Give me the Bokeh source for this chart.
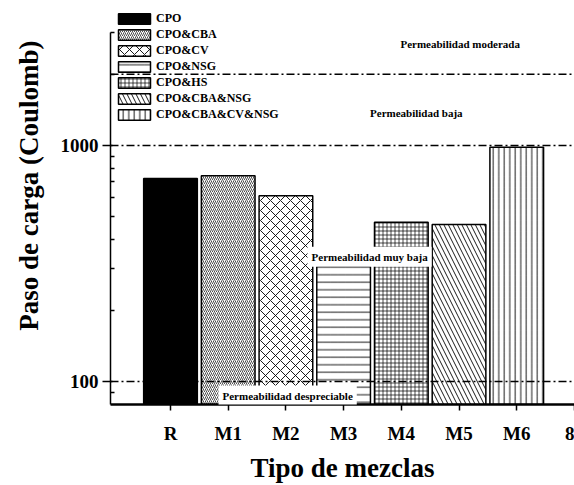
from bokeh.plotting import figure
from bokeh.models import (Range1d, FixedTicker, Span, Label, Legend, LegendItem,
                          ColumnDataSource)
from bokeh.embed import file_html
from bokeh.resources import INLINE

# ---- data ----
categories = ["R", "M1", "M2", "M3", "M4", "M5", "M6", "8"]
positions = [1, 2, 3, 4, 5, 6, 7, 8]
values = [724, 743, 612, 308, 473, 462, 981]
legend_labels = ["CPO", "CPO&CBA", "CPO&CV", "CPO&NSG", "CPO&HS",
                 "CPO&CBA&NSG", "CPO&CBA&CV&NSG"]
limits = [100, 1000, 2000]
zone_texts = ["Permeabilidad moderada", "Permeabilidad baja",
              "Permeabilidad muy baja", "Permeabilidad despreciable"]
zone_x = [6.02, 5.26, 4.45, 3.03]
zone_y = [2683, 1376, 338, 87.3]
y_axis_bounds = (80, 3013)

# ---- styles ----
FONT = "Liberation Serif"
fills = ["black", "white", "white", "white", "white", "white", "white"]
hatches = [" ", "/", "x", "-", "+", "\\", "|"]
hatch_scales = [12, 4, 10, 7.5, 4, 9, 5.5]
hatch_weights = [1, 0.7, 0.9, 0.9, 0.7, 0.9, 0.9]
NB = "\u00a0"

p = figure(width=574, height=485, output_backend="svg", toolbar_location=None,
           x_range=Range1d(-0.0397, 8.001), y_range=Range1d(80, 4106),
           y_axis_type="log", min_border_left=110, min_border_right=0,
           min_border_top=0, min_border_bottom=78)
p.outline_line_color = None
p.xgrid.visible = False
p.ygrid.visible = False
p.background_fill_color = "white"
p.border_fill_color = "white"

items = []
for i in range(len(values)):
    src = ColumnDataSource(dict(x=[positions[i]], top=[values[i]]))
    r = p.vbar(x="x", top="top", bottom=1, width=0.93, source=src,
               fill_color=fills[i], line_color="black", line_width=1.5,
               hatch_pattern=hatches[i], hatch_scale=hatch_scales[i],
               hatch_color="black", hatch_weight=hatch_weights[i])
    items.append(LegendItem(label=legend_labels[i], renderers=[r]))

for lv in limits:
    p.add_layout(Span(location=lv, dimension="width", line_color="black",
                      line_width=1.5, line_dash="8 3 2 3"))

bgs = [None, None, "white", "white"]
for t, xx, yy, bg in zip(zone_texts, zone_x, zone_y, bgs):
    lab = Label(x=xx, y=yy, text=t, text_font=FONT, text_font_style="bold",
                text_font_size="11px", text_align="center",
                text_baseline="middle", text_color="black")
    if bg:
        lab.background_fill_color = bg
        lab.padding = 4
    p.add_layout(lab)

legend = Legend(items=items, location=(4, 282), padding=0, margin=0,
                border_line_color=None, background_fill_alpha=0,
                glyph_width=40, glyph_height=13, label_height=13,
                label_standoff=2, spacing=1,
                label_text_font=FONT, label_text_font_style="bold",
                label_text_font_size="12px", label_text_color="black")
p.add_layout(legend, "center")

# x axis
xa = p.xaxis[0]
xa.ticker = FixedTicker(ticks=positions)
xa.major_label_overrides = {pos: c for pos, c in zip(positions, categories)}
xa.axis_label = "Tipo de mezclas"
xa.axis_label_text_font = FONT
xa.axis_label_text_font_style = "bold"
xa.axis_label_text_font_size = "27px"
xa.axis_label_text_color = "black"
xa.axis_label_standoff = 6
xa.major_label_text_font = FONT
xa.major_label_text_font_style = "bold"
xa.major_label_text_font_size = "19px"
xa.major_label_text_color = "black"
xa.major_label_standoff = 12
xa.axis_line_width = 2.5
xa.major_tick_line_width = 1.5
xa.major_tick_out = 6
xa.major_tick_in = 0
xa.minor_tick_line_color = None

# y axis
ya = p.yaxis[0]
ya.bounds = y_axis_bounds
ya.ticker = FixedTicker(ticks=[100, 1000],
                        minor_ticks=[90, 200, 300, 400, 500, 600, 700, 800, 900,
                                     2000, 3000])
ya.major_label_overrides = {100: "100", 1000: "1000"}
ya.major_label_text_font = FONT
ya.major_label_text_font_style = "bold"
ya.major_label_text_font_size = "19px"
ya.major_label_text_color = "black"
ya.major_label_standoff = 4
ya.axis_line_width = 1.5
ya.major_tick_line_width = 1.5
ya.minor_tick_line_width = 1.5
ya.major_tick_out = 8
ya.major_tick_in = 2
ya.minor_tick_out = 0
ya.minor_tick_in = 4
ya.axis_label = NB * 5 + "Paso de carga (Coulomb)"
ya.axis_label_text_font = FONT
ya.axis_label_text_font_style = "bold"
ya.axis_label_text_font_size = "27px"
ya.axis_label_text_color = "black"
ya.axis_label_standoff = 14

open("out.html", "w").write(file_html(p, INLINE))
